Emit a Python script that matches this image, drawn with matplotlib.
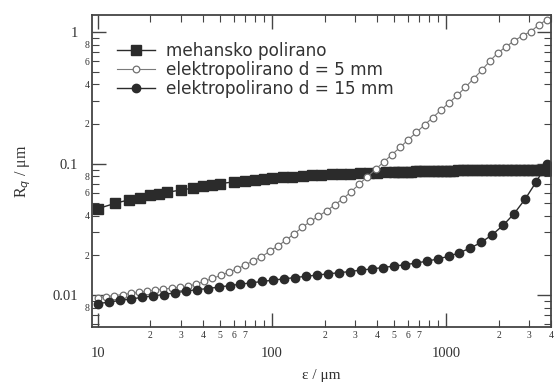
import numpy as np
import matplotlib
matplotlib.use("Agg")
import matplotlib.pyplot as plt
from matplotlib.ticker import LogLocator, FuncFormatter

# mehansko polirano (filled squares)
x_meh = [10, 12.5, 15, 17.5, 20, 22.5, 25, 30, 35, 40, 45, 50, 60, 70, 80, 90, 100,
         115, 130, 150, 170, 190, 220, 250, 280, 320, 360, 400, 450, 500, 530, 560,
         600, 630, 670, 700, 750, 800, 850, 900, 950, 1000, 1050, 1100, 1175, 1250,
         1325, 1400, 1500, 1600, 1700, 1800, 1900, 2000, 2125, 2250, 2375, 2500,
         2650, 2800, 2950, 3100, 3300, 3500, 3700, 3900]
y_meh = [0.0455, 0.0498, 0.053, 0.0552, 0.0573, 0.059, 0.0605, 0.063, 0.065, 0.067,
         0.0688, 0.0704, 0.0725, 0.074, 0.0752, 0.0763, 0.0773, 0.0786, 0.0796, 0.0805,
         0.0812, 0.0818, 0.0826, 0.0832, 0.0837, 0.0843, 0.0848, 0.0853, 0.0858,
         0.0862, 0.0864, 0.0866, 0.0868, 0.0870, 0.0872, 0.0873, 0.0875, 0.0877,
         0.0878, 0.0880, 0.0882, 0.0883, 0.0884, 0.0885, 0.0886, 0.0887, 0.0888,
         0.0889, 0.0890, 0.0891, 0.0891, 0.0892, 0.0892, 0.0893, 0.0893, 0.0894,
         0.0894, 0.0895, 0.0895, 0.0896, 0.0896, 0.0897, 0.0897, 0.0898, 0.0898, 0.0898]

# elektropolirano d = 5 mm (open circles), log-spaced sampling 10..3800
x_el5 = np.geomspace(10, 3800, 56)
y_el5 = [0.00955, 0.00973, 0.00991, 0.0101, 0.0103, 0.0105, 0.0107, 0.0109, 0.0111,
         0.0113, 0.0115, 0.0117, 0.0121, 0.0127, 0.0134, 0.0141, 0.0149, 0.0158,
         0.0169, 0.0182, 0.0195, 0.0215, 0.0236, 0.0261, 0.0292, 0.0327, 0.0363,
         0.0398, 0.0437, 0.0486, 0.0541, 0.0610, 0.070, 0.0796, 0.0904, 0.103, 0.117,
         0.133, 0.152, 0.173, 0.197, 0.224, 0.255, 0.290, 0.330, 0.381, 0.442, 0.513,
         0.603, 0.697, 0.776, 0.861, 0.938, 1.01, 1.135, 1.245]

# elektropolirano d = 15 mm (filled circles), log-spaced sampling 10..3800
x_el15 = np.geomspace(10, 3800, 42)
y_el15 = [0.00861, 0.00885, 0.00910, 0.00934, 0.00960, 0.00986, 0.0101, 0.0104,
          0.0107, 0.0110, 0.0112, 0.0115, 0.0118, 0.0121, 0.0124, 0.0127, 0.0130,
          0.0133, 0.0136, 0.0139, 0.0142, 0.0145, 0.0148, 0.0151, 0.0155, 0.0158,
          0.0162, 0.0166, 0.0170, 0.0175, 0.0181, 0.0188, 0.0197, 0.0210, 0.0228,
          0.0252, 0.0288, 0.0340, 0.0417, 0.0537, 0.0724, 0.100]

labels = ["mehansko polirano", "elektropolirano d = 5 mm", "elektropolirano d = 15 mm"]

x_minor_lab = [2, 3, 4, 5, 6, 7]
y_minor_lab = [2, 4, 6, 8]

fig = plt.figure(figsize=(5.55, 3.83), dpi=100)
ax = fig.add_axes([0.166, 0.146, 0.827, 0.815])

ax.plot(x_meh, y_meh, '-s', color='#2b2b2b', lw=1, ms=7, mec='#2b2b2b', label=labels[0])
ax.plot(x_el5, y_el5, '-o', color='#7a7a7a', lw=0.8, ms=4.8, mfc='white', mec='#707070',
        mew=0.9, label=labels[1])
ax.plot(x_el15, y_el15, '-o', color='#2b2b2b', lw=1, ms=6, mec='#2b2b2b', label=labels[2])

ax.set_xscale('log')
ax.set_yscale('log')
ax.set_xlim(9.24, 4010)
ax.set_ylim(0.00571, 1.35)

ax.xaxis.set_major_locator(LogLocator(base=10, numticks=10))
ax.xaxis.set_minor_locator(LogLocator(base=10, subs=np.arange(2, 10), numticks=10))
ax.yaxis.set_major_locator(LogLocator(base=10, numticks=10))
ax.yaxis.set_minor_locator(LogLocator(base=10, subs=np.arange(2, 10), numticks=10))


def major_fmt(v, pos):
    if v >= 1:
        return '%d' % round(v)
    return ('%g' % v)


def lead_digit(v):
    e = np.floor(np.log10(v) + 1e-9)
    return int(round(v / 10 ** e))


def x_minor_fmt(v, pos):
    d = lead_digit(v)
    return str(d) if d in x_minor_lab else ''


def y_minor_fmt(v, pos):
    d = lead_digit(v)
    if v < 0.0075:
        return ''
    return str(d) if d in y_minor_lab else ''


ax.xaxis.set_major_formatter(FuncFormatter(major_fmt))
ax.yaxis.set_major_formatter(FuncFormatter(major_fmt))
ax.xaxis.set_minor_formatter(FuncFormatter(x_minor_fmt))
ax.yaxis.set_minor_formatter(FuncFormatter(y_minor_fmt))

ax.tick_params(which='both', direction='in', top=True, right=True, colors='#444444')
ax.tick_params(which='major', length=10, width=1, labelsize=10.5)
ax.tick_params(which='minor', length=5, width=0.8, labelsize=7)
ax.tick_params(axis='x', which='major', pad=14)
ax.tick_params(axis='x', which='minor', pad=3)
ax.tick_params(axis='y', which='major', pad=10)
ax.tick_params(axis='y', which='minor', pad=2)
for lab in ax.get_xticklabels(which='both') + ax.get_yticklabels(which='both'):
    lab.set_family('Liberation Serif')
    lab.set_color('#333333')

for s in ax.spines.values():
    s.set_linewidth(1.3)
    s.set_color('#444444')

ax.set_xlabel('ε / μm', family='Liberation Serif', fontsize=11, color='#333333', labelpad=7)
ax.set_ylabel('R$_q$ / μm', family='Liberation Serif', fontsize=11.5, color='#333333',
              labelpad=14)

leg = ax.legend(loc='upper left', bbox_to_anchor=(0.04, 0.935), frameon=False,
                prop={'family': 'DejaVu Sans', 'size': 12.2}, handlelength=2.2,
                handletextpad=0.7, labelspacing=0.05, borderaxespad=0)
for t in leg.get_texts():
    t.set_color('#333333')

fig.savefig('out.png', dpi=100)
